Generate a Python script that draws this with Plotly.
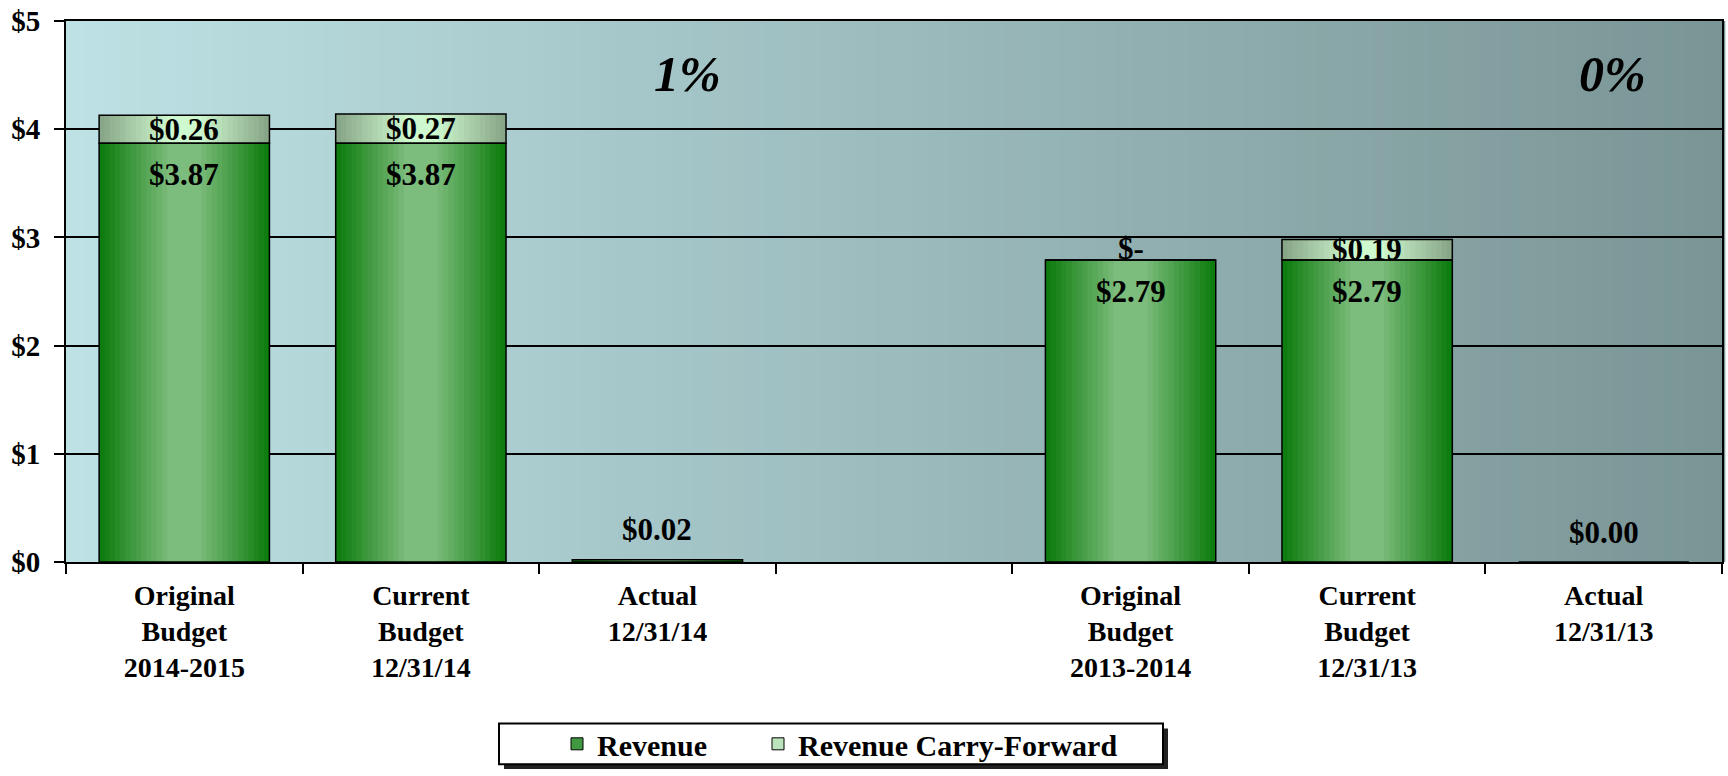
import plotly.graph_objects as go

# ---------------- data ----------------
categories = [
    "Original<br>Budget<br>2014-2015",
    "Current<br>Budget<br>12/31/14",
    "Actual<br>12/31/14",
    " ",
    "Original<br>Budget<br>2013-2014",
    "Current<br>Budget<br>12/31/13",
    "Actual<br>12/31/13",
]
revenue = [3.87, 3.87, 0.02, None, 2.79, 2.79, 0.00]
carry_forward = [0.26, 0.27, None, None, 0.00, 0.19, None]
pct_categories = ["Actual<br>12/31/14", "Actual<br>12/31/13"]
pct_labels = ["1%", "0%"]
pct_y = [4.51, 4.51]
y_tick_vals = [0, 1, 2, 3, 4, 5]
y_tick_text = ["$0", "$1", "$2", "$3", "$4", "$5"]

# ---------------- style ----------------
FONT = "Liberation Serif"
BAR_W = 0.72
N_LAYERS = 14
REV_DARK, REV_LIGHT = (14, 124, 14), (124, 188, 124)
CF_DARK, CF_LIGHT = (136, 166, 136), (206, 248, 206)
BG_LEFT, BG_RIGHT = (189, 225, 228), (122, 149, 150)
FIG_W, FIG_H = 1728, 776
PW, PH, ML, MT = 1656, 546, 66, 21   # plot area in window pixels


def mix(c1, c2, t):
    return "rgb(%d,%d,%d)" % tuple(round(a + (b - a) * t) for a, b in zip(c1, c2))


def px_x(px):
    return (px - ML) / PW


def px_y(py):
    return (MT + PH - py) / PH


base_cf = [r if r is not None else 0 for r in revenue]

fig = go.Figure()

# legend-only entries
fig.add_trace(go.Bar(x=[None], y=[None], name="Revenue", legend="legend",
                     marker=dict(color=mix(REV_DARK, REV_LIGHT, 0.45), line=dict(color="black", width=1))))
fig.add_trace(go.Bar(x=[None], y=[None], name="Revenue Carry-Forward", legend="legend2",
                     marker=dict(color=mix(CF_DARK, CF_LIGHT, 0.75), line=dict(color="black", width=1))))

# gradient layers
for k in range(N_LAYERS):
    t = k / (N_LAYERS - 1)
    w = BAR_W * (1 - 0.8 * t)
    fig.add_trace(go.Bar(x=categories, y=revenue, width=w, showlegend=False, hoverinfo="skip",
                         marker=dict(color=mix(REV_DARK, REV_LIGHT, t), line=dict(width=0))))
for k in range(N_LAYERS):
    t = k / (N_LAYERS - 1)
    w = BAR_W * (1 - 0.8 * t)
    fig.add_trace(go.Bar(x=categories, y=carry_forward, base=base_cf, width=w, showlegend=False,
                         hoverinfo="skip",
                         marker=dict(color=mix(CF_DARK, CF_LIGHT, t), line=dict(width=0))))

# outlines
fig.add_trace(go.Bar(x=categories, y=revenue, width=BAR_W, showlegend=False, name="Revenue",
                     marker=dict(color="rgba(0,0,0,0)", line=dict(color="black", width=1.5))))
fig.add_trace(go.Bar(x=categories, y=carry_forward, base=base_cf, width=BAR_W, showlegend=False,
                     name="Revenue Carry-Forward",
                     marker=dict(color="rgba(0,0,0,0)", line=dict(color="black", width=1.5))))

# background gradient strips
shapes = []
N_BG = 90
for i in range(N_BG):
    shapes.append(dict(type="rect", xref="paper", yref="paper", x0=i / N_BG, x1=(i + 1) / N_BG + 0.002,
                       y0=0, y1=1, line=dict(width=0), fillcolor=mix(BG_LEFT, BG_RIGHT, i / (N_BG - 1)),
                       layer="below"))

# legend box + shadow
LX0, LX1, LY0, LY1 = px_x(499), px_x(1163), px_y(771), px_y(730)
shapes.append(dict(type="rect", xref="paper", yref="paper", x0=LX0 + 5 / PW, x1=LX1 + 5 / PW,
                   y0=LY0 - 5 / PH, y1=LY1 - 5 / PH, line=dict(width=0), fillcolor="#222222", layer="below"))
shapes.append(dict(type="rect", xref="paper", yref="paper", x0=LX0, x1=LX1, y0=LY0, y1=LY1,
                   line=dict(color="black", width=2), fillcolor="white", layer="below"))

# annotations
ann = []
lab_font = dict(family=FONT, size=31, color="black", weight="bold")
for c, r in zip(categories, revenue):
    if r is None:
        continue
    ann.append(dict(x=c, y=r, xref="x", yref="y", text="$%.2f" % r, showarrow=False, font=lab_font,
                    yanchor="middle", yshift=(-31 if r > 0.5 else 30)))
for c, r, cf in zip(categories, revenue, carry_forward):
    if cf is None:
        continue
    txt = "$-" if cf == 0 else "$%.2f" % cf
    ann.append(dict(x=c, y=r + cf / 2, xref="x", yref="y", text=txt, showarrow=False, font=lab_font,
                    yanchor="middle", yshift=(12 if cf == 0 else 0)))
for c, p, py in zip(pct_categories, pct_labels, pct_y):
    ann.append(dict(x=c, y=py, xref="x", yref="y", text="<i>%s</i>" % p, showarrow=False,
                    font=dict(family=FONT, size=50, color="black", weight="bold"),
                    yanchor="middle", xshift=(30 if p == "1%" else 9)))

leg_font = dict(family=FONT, size=30, color="black", weight="bold")
fig.update_layout(
    width=FIG_W, height=FIG_H,
    margin=dict(l=ML, r=FIG_W - ML - PW, t=MT, b=FIG_H - MT - PH),
    paper_bgcolor="white", plot_bgcolor="rgb(160,190,192)",
    barmode="overlay",
    shapes=shapes, annotations=ann,
    showlegend=True,
    legend=dict(orientation="h", x=px_x(557), xanchor="left", y=px_y(750.5),
                yanchor="middle", bgcolor="rgba(0,0,0,0)", borderwidth=0, font=leg_font),
    legend2=dict(orientation="h", x=px_x(758), xanchor="left", y=px_y(750.5),
                 yanchor="middle", bgcolor="rgba(0,0,0,0)", borderwidth=0, font=leg_font),
    xaxis=dict(type="category", categoryorder="array", categoryarray=categories, tickson="boundaries",
               ticks="outside", ticklen=10, tickwidth=1.5, tickcolor="black", automargin=False,
               showline=True, linecolor="black", linewidth=2, mirror=True, showgrid=False,
               ticklabelstandoff=7,
               tickfont=dict(family=FONT, size=28, color="black", weight="bold")),
    yaxis=dict(range=[0, 5], tickvals=y_tick_vals, ticktext=y_tick_text, ticks="outside", ticklen=10,
               tickwidth=1.5, tickcolor="black", showline=True, linecolor="black", linewidth=2,
               mirror=True, showgrid=True, gridcolor="black", gridwidth=1.5, zeroline=False,
               automargin=False,
               tickfont=dict(family=FONT, size=29, color="black", weight="bold"), ticklabelstandoff=8),
)

fig.write_html("out.html", config={"displayModeBar": False},
               post_script="document.body.style.margin='0';document.body.style.overflow='hidden';")
